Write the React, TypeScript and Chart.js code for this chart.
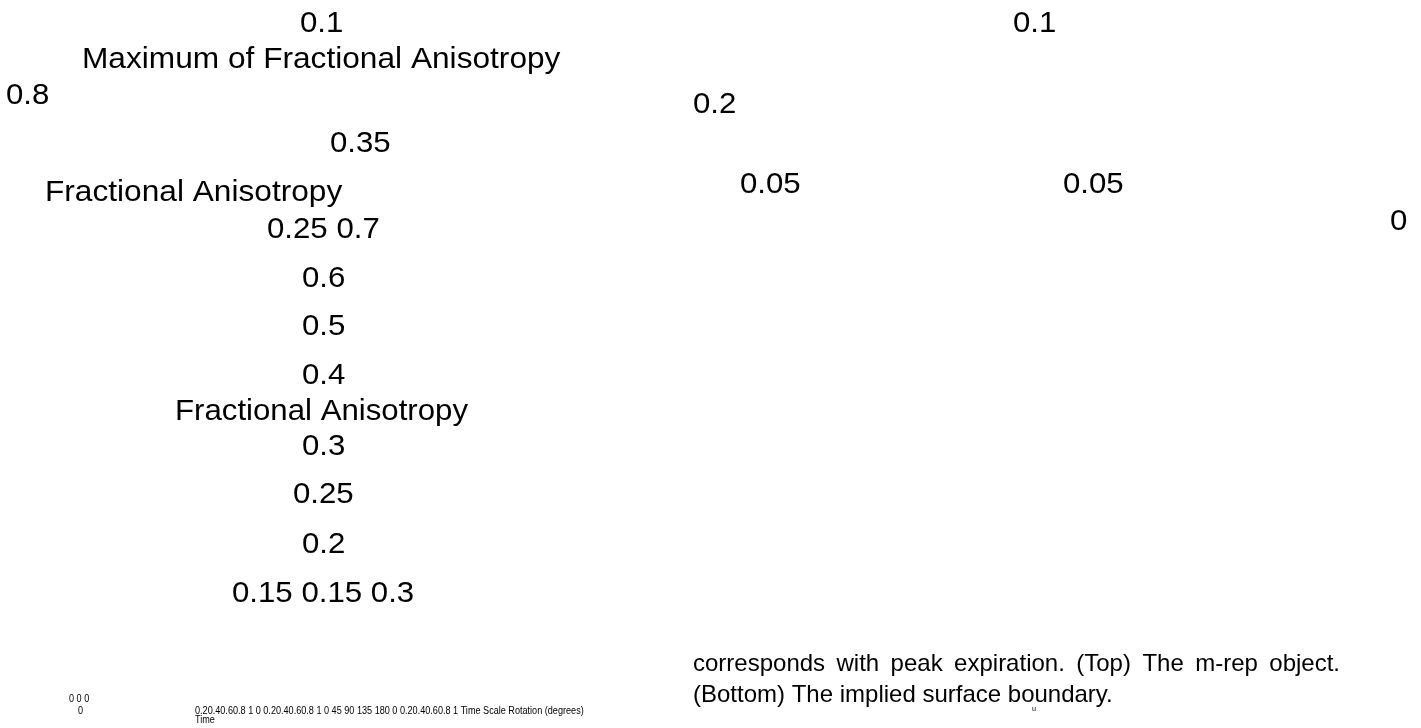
import React, { useEffect, useRef } from "react";
import { Chart, registerables } from "chart.js";

Chart.register(...registerables);

// ---- text content ----
const leftTickLabels = ["0.1", "0.8", "0.35", "0.25 0.7", "0.6", "0.5", "0.4", "0.3", "0.25", "0.2", "0.15 0.15 0.3"];
const axisTitles = ["Maximum of Fractional Anisotropy", "Fractional Anisotropy", "Fractional Anisotropy"];
const rightTickLabels = ["0.1", "0.2", "0.05", "0.05", "0"];
const smallTickLabels = [
  "0 0 0",
  "0",
  "0.20.40.60.8 1 0 0.20.40.60.8 1 0 45 90 135 180 0 0.20.40.60.8 1 Time Scale Rotation (degrees)",
  "Time",
  "u",
];
const captionLines = [
  "corresponds with peak expiration. (Top) The m-rep object.",
  "(Bottom) The implied surface boundary.",
];

// ---- layout (positions / sizes / styles) ----
const FONT_FAMILY = '"Liberation Sans", Arial, Helvetica, sans-serif';
type Place = { x: number; y: number; size: number; sx: number; justifyTo?: number };

const BIG = 30;
const BIG_SX = 1.04;
const leftTickPlaces: Place[] = [
  { x: 300, y: 32, size: BIG, sx: BIG_SX },
  { x: 6, y: 104, size: BIG, sx: BIG_SX },
  { x: 330, y: 152, size: BIG, sx: BIG_SX },
  { x: 267, y: 238, size: BIG, sx: BIG_SX },
  { x: 302, y: 287, size: BIG, sx: BIG_SX },
  { x: 302, y: 335, size: BIG, sx: BIG_SX },
  { x: 302, y: 384, size: BIG, sx: BIG_SX },
  { x: 302, y: 455, size: BIG, sx: BIG_SX },
  { x: 293, y: 503, size: BIG, sx: BIG_SX },
  { x: 302, y: 553, size: BIG, sx: BIG_SX },
  { x: 232, y: 602, size: BIG, sx: BIG_SX },
];
const axisTitlePlaces: Place[] = [
  { x: 82, y: 68, size: BIG, sx: 1.055 },
  { x: 45, y: 201, size: BIG, sx: 1.055 },
  { x: 175, y: 420, size: BIG, sx: BIG_SX },
];
const rightTickPlaces: Place[] = [
  { x: 1013, y: 32, size: BIG, sx: BIG_SX },
  { x: 693, y: 113, size: BIG, sx: BIG_SX },
  { x: 740, y: 193, size: BIG, sx: BIG_SX },
  { x: 1063, y: 193, size: BIG, sx: BIG_SX },
  { x: 1390, y: 230, size: BIG, sx: BIG_SX },
];
const smallTickPlaces: Place[] = [
  { x: 69, y: 702, size: 10, sx: 0.91 },
  { x: 78, y: 714, size: 10, sx: 0.91 },
  { x: 195, y: 714, size: 10, sx: 0.91 },
  { x: 195, y: 723, size: 10, sx: 0.91 },
  { x: 1032, y: 711, size: 8, sx: 0.9 },
];
const captionPlaces: Place[] = [
  { x: 693, y: 671, size: 24, sx: 1.0, justifyTo: 1340 },
  { x: 693, y: 702, size: 24, sx: 1.0 },
];

function drawText(ctx: CanvasRenderingContext2D, text: string, p: Place) {
  ctx.save();
  ctx.font = `${p.size}px ${FONT_FAMILY}`;
  ctx.fillStyle = "#000000";
  ctx.textBaseline = "alphabetic";
  ctx.textAlign = "left";
  ctx.translate(p.x, p.y);
  ctx.scale(p.sx, 1);
  if (p.justifyTo !== undefined) {
    const words = text.split(" ");
    const target = (p.justifyTo - p.x) / p.sx;
    const wordsW = words.reduce((s, w) => s + ctx.measureText(w).width, 0);
    const gap = words.length > 1 ? (target - wordsW) / (words.length - 1) : 0;
    let cx = 0;
    for (const w of words) {
      ctx.fillText(w, cx, 0);
      cx += ctx.measureText(w).width + gap;
    }
  } else {
    ctx.fillText(text, 0, 0);
  }
  ctx.restore();
}

const textLayerPlugin = {
  id: "textLayer",
  afterDraw(chart: Chart) {
    const ctx = chart.ctx;
    const groups: [string[], Place[]][] = [
      [leftTickLabels, leftTickPlaces],
      [axisTitles, axisTitlePlaces],
      [rightTickLabels, rightTickPlaces],
      [smallTickLabels, smallTickPlaces],
      [captionLines, captionPlaces],
    ];
    for (const [texts, places] of groups) {
      texts.forEach((t, i) => {
        if (places[i]) drawText(ctx, t, places[i]);
      });
    }
  },
};

export default function App() {
  const canvasRef = useRef<HTMLCanvasElement | null>(null);

  useEffect(() => {
    document.body.style.margin = "0";
    document.body.style.background = "#ffffff";
    const canvas = canvasRef.current;
    if (!canvas) return;
    const chart = new Chart(canvas, {
      type: "scatter",
      data: { datasets: [{ data: [], pointRadius: 0 }] },
      options: {
        animation: false,
        responsive: true,
        maintainAspectRatio: false,
        layout: { padding: 0 },
        plugins: { legend: { display: false }, tooltip: { enabled: false }, title: { display: false } },
        scales: {
          x: { display: false, min: 0, max: 1 },
          y: { display: false, min: 0, max: 1 },
        },
        events: [],
      },
      plugins: [textLayerPlugin],
    });
    return () => chart.destroy();
  }, []);

  return (
    <div style={{ position: "fixed", left: 0, top: 0, width: 1421, height: 728, background: "#ffffff" }}>
      <canvas ref={canvasRef} />
    </div>
  );
}
